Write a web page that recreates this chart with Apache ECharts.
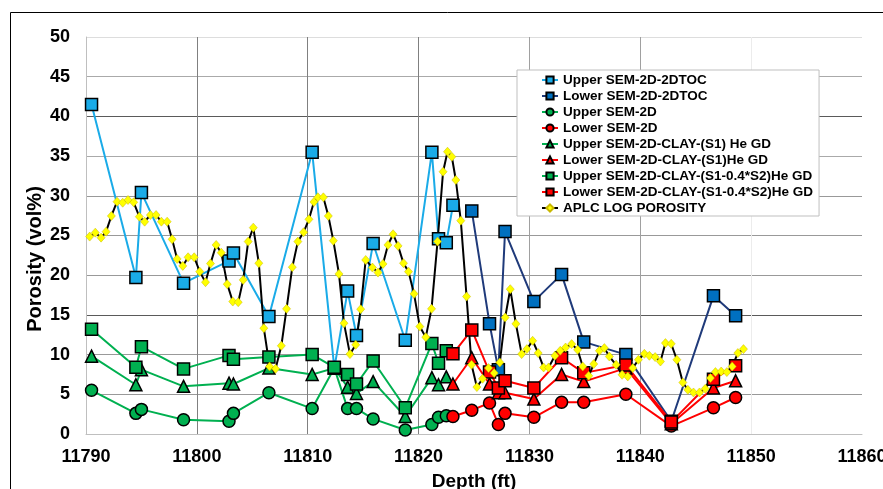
<!DOCTYPE html>
<html>
<head>
<meta charset="utf-8">
<script src="https://cdn.jsdelivr.net/npm/echarts@6/dist/echarts.min.js"></script>
<style>
html,body{margin:0;padding:0;background:#fff;}
#chart{width:883px;height:489px;}
</style>
</head>
<body>
<div id="chart"></div>
<script>
// ---- data ----
var upperDepth = [11790.5, 11794.5, 11795.0, 11798.8, 11802.9, 11803.3, 11806.5, 11810.4, 11812.4, 11813.6, 11814.4, 11815.9, 11818.8, 11821.2, 11821.8, 11822.5];
var upperTocDepth = [11790.5, 11794.5, 11795.0, 11798.8, 11802.9, 11803.3, 11806.5, 11810.4, 11812.4, 11813.6, 11814.4, 11815.9, 11818.8, 11821.2, 11821.8, 11822.5, 11823.1];
var upperToc = [41.5, 19.7, 30.4, 19.0, 21.8, 22.8, 14.8, 35.5, 8.3, 18.0, 12.4, 24.0, 11.8, 35.5, 24.6, 24.1, 28.8];
var upperSem2d = [5.5, 2.6, 3.1, 1.8, 1.6, 2.6, 5.2, 3.2, 8.3, 3.2, 3.2, 1.9, 0.5, 1.2, 2.1, 2.3];
var upperClayS1 = [9.8, 6.2, 8.1, 6.0, 6.4, 6.3, 8.3, 7.5, 8.3, 5.9, 5.1, 6.6, 2.2, 7.1, 6.2, 7.2];
var upperClayS1S2 = [13.2, 8.4, 11.0, 8.2, 9.9, 9.4, 9.7, 10.0, 8.4, 7.5, 6.3, 9.2, 3.3, 11.4, 8.9, 10.5];

var lowerDepth = [11823.1, 11824.8, 11826.4, 11827.2, 11827.8, 11830.4, 11832.9, 11834.9, 11838.7, 11842.8, 11846.6, 11848.6];
var lowerTocDepth = [11824.8, 11826.4, 11827.2, 11827.8, 11830.4, 11832.9, 11834.9, 11838.7, 11842.8, 11846.6, 11848.6];
var lowerToc = [28.1, 13.9, 8.1, 25.5, 16.7, 20.1, 11.6, 10.0, 1.6, 17.4, 14.9];
var lowerSem2d = [2.2, 3.0, 3.9, 1.2, 2.6, 2.1, 4.0, 4.0, 5.0, 1.0, 3.3, 4.6];
var lowerClayS1 = [6.3, 9.6, 6.3, 5.2, 5.2, 4.4, 7.5, 6.6, 8.3, 1.3, 5.8, 6.7];
var lowerClayS1S2 = [10.1, 13.1, 7.8, 5.8, 6.7, 5.8, 9.6, 7.7, 8.7, 1.5, 6.9, 8.6];

var aplcDepth = [11790.33, 11790.84, 11791.36, 11791.81, 11792.29, 11792.80, 11793.31, 11793.79, 11794.30, 11794.81,
  11795.29, 11795.81, 11796.32, 11796.80, 11797.32, 11797.77, 11798.22, 11798.73, 11799.21, 11799.76,
  11800.26, 11800.78, 11801.23, 11801.74, 11802.20, 11802.74, 11803.24, 11803.73, 11804.18, 11804.63,
  11805.09, 11805.59, 11806.04, 11806.56, 11807.10, 11807.62, 11808.09, 11808.61, 11809.11, 11809.63,
  11810.11, 11810.56, 11810.92, 11811.41, 11811.86, 11812.31, 11812.82, 11813.27, 11813.81, 11814.33,
  11814.78, 11815.23, 11815.84, 11816.34, 11816.79, 11817.24, 11817.70, 11818.15, 11818.64, 11819.09,
  11819.59, 11820.11, 11820.65, 11821.17, 11821.71, 11822.21, 11822.61, 11823.00, 11823.36, 11823.81,
  11824.33, 11824.78, 11825.26, 11825.77, 11826.31, 11826.82, 11827.33, 11827.81, 11828.27, 11828.78,
  11829.30, 11829.77, 11830.29, 11830.79, 11831.28, 11831.73, 11832.30, 11832.78, 11833.26, 11833.81,
  11834.35, 11834.81, 11835.35, 11835.80, 11836.31, 11836.76, 11837.21, 11837.82, 11838.36, 11838.87,
  11839.32, 11839.83, 11840.37, 11840.82, 11841.34, 11841.82, 11842.27, 11842.79, 11843.30, 11843.84,
  11844.29, 11844.80, 11845.34, 11845.86, 11846.33, 11846.78, 11847.30, 11847.81, 11848.29, 11848.80,
  11849.31];
var aplcPorosity = [24.86, 25.36, 24.73, 25.48, 27.46, 29.26, 29.13, 29.47, 29.18, 27.37,
  26.74, 27.58, 27.58, 26.74, 26.74, 24.53, 22.05, 21.17, 22.26, 22.26,
  20.45, 19.12, 21.46, 23.81, 22.84, 18.87, 16.68, 16.60, 19.41, 24.23,
  25.99, 21.51, 13.33, 8.50, 8.21, 11.11, 15.76, 21.01, 24.23, 25.41,
  27.04, 29.22, 29.81, 29.81, 27.46, 24.35, 20.16, 13.96, 10.06, 11.23,
  15.72, 21.92, 20.96, 20.33, 21.42, 23.81, 25.16, 23.69, 21.51, 20.45,
  17.65, 13.53, 12.20, 15.76, 24.23, 33.03, 35.55, 34.92, 31.99, 26.87,
  17.31, 8.72, 5.91, 6.96, 8.30, 7.67, 9.01, 14.67, 18.24, 13.87,
  10.06, 10.69, 11.74, 10.19, 8.38, 8.38, 9.85, 10.48, 10.89, 11.32,
  10.60, 8.50, 7.33, 8.81, 10.48, 10.82, 9.76, 8.72, 7.46, 7.25,
  8.30, 9.35, 10.10, 9.85, 9.69, 9.13, 11.45, 11.36, 9.35, 6.49,
  5.57, 5.23, 5.23, 5.70, 7.04, 7.80, 7.87, 7.80, 8.50, 10.19,
  10.69];

var xTicks = {min: 11790, max: 11860, step: 10};
var yTicks = {min: 0, max: 50, step: 5};
var axisTitleX = 'Depth (ft)';
var axisTitleY = 'Porosity (vol%)';

// ---- build ----
function pairs(xs, ys) { return xs.map(function (x, i) { return [x, ys[i]]; }); }

var FONT = '"Liberation Sans", Arial, sans-serif';

function mk(name, xs, ys, symbol, size, fill, line) {
  return {
    name: name, type: 'line', data: pairs(xs, ys),
    symbol: symbol, symbolSize: size, showSymbol: true,
    itemStyle: {color: fill, borderColor: '#000', borderWidth: 1.5},
    lineStyle: {color: line, width: 2},
    emphasis: {disabled: true}, silent: true
  };
}

var series = [
  mk('Upper SEM-2D-2DTOC', upperTocDepth, upperToc, 'rect', 12, '#1AABE8', '#1AABE8'),
  mk('Lower SEM-2D-2DTOC', lowerTocDepth, lowerToc, 'rect', 12, '#0070C0', '#1F3A7A'),
  mk('Upper SEM-2D', upperDepth, upperSem2d, 'circle', 12, '#00B050', '#00B050'),
  mk('Lower SEM-2D', lowerDepth, lowerSem2d, 'circle', 12, '#FF0000', '#FF0000'),
  mk('Upper SEM-2D-CLAY-(S1) He GD', upperDepth, upperClayS1, 'triangle', 12, '#00B050', '#00B050'),
  mk('Lower SEM-2D-CLAY-(S1)He GD', lowerDepth, lowerClayS1, 'triangle', 12, '#FF0000', '#FF0000'),
  mk('Upper SEM-2D-CLAY-(S1-0.4*S2)He GD', upperDepth, upperClayS1S2, 'rect', 12, '#00B050', '#00B050'),
  mk('Lower SEM-2D-CLAY-(S1-0.4*S2)He GD', lowerDepth, lowerClayS1S2, 'rect', 12, '#FF0000', '#FF0000')
];
var aplc = mk('APLC LOG POROSITY', aplcDepth, aplcPorosity, 'diamond', [8, 9], '#FFFF00', '#000000');
aplc.itemStyle = {color: '#FFFF00', borderColor: '#C9B800', borderWidth: 0.5};
aplc.lineStyle = {color: '#000', width: 2};
series.push(aplc);

var chart = echarts.init(document.getElementById('chart'), null, {renderer: 'canvas'});
chart.setOption({
  animation: false,
  backgroundColor: '#fff',
  grid: {left: 86, right: 21, top: 37, bottom: 55, containLabel: false, outerBoundsMode: 'none'},
  xAxis: {
    type: 'value', min: xTicks.min, max: xTicks.max, interval: xTicks.step,
    name: axisTitleX, nameLocation: 'middle', nameGap: 38,
    nameTextStyle: {fontFamily: FONT, fontWeight: 'bold', fontSize: 19, color: '#000'},
    axisLine: {show: true, lineStyle: {color: '#bfbfbf', width: 1}},
    axisTick: {show: false},
    axisLabel: {fontFamily: FONT, fontWeight: 'bold', fontSize: 18, color: '#000', margin: 14,
      hideOverlap: false, formatter: function (v) { return String(v); }},
    splitLine: {show: true, lineStyle: {width: 1, color: ['#bfbfbf', '#808080', '#808080', '#808080', '#a0a0a0', '#a0a0a0', '#ececec', 'rgba(0,0,0,0)']}}
  },
  yAxis: {
    type: 'value', min: yTicks.min, max: yTicks.max, interval: yTicks.step,
    axisLine: {show: true, lineStyle: {color: '#bfbfbf', width: 1}},
    axisTick: {show: false},
    axisLabel: {fontFamily: FONT, fontWeight: 'bold', fontSize: 18, color: '#000', margin: 16},
    splitLine: {show: true, lineStyle: {width: 1, color: ['#bfbfbf', '#999999', '#999999', '#5a5a5a', '#999999', '#999999', '#999999', '#aaaaaa', '#5a5a5a', '#aaaaaa', '#dddddd']}}
  },
  legend: {
    orient: 'vertical', left: 517, top: 70,
    padding: [3, 6, 1, 24], itemGap: 2, itemWidth: 16, itemHeight: 9,
    backgroundColor: '#fff', borderColor: '#bfbfbf', borderWidth: 1, borderRadius: 0,
    textStyle: {fontFamily: FONT, fontWeight: 'bold', fontSize: 13.5, color: '#000', lineHeight: 14},
    selectedMode: false,
    data: series.map(function (s) { return s.name; })
  },
  graphic: [
    {type: 'rect', left: 8, top: 10, shape: {width: 900, height: 520}, style: {fill: 'none', stroke: '#000', lineWidth: 1}, silent: true, z: 100},
    {type: 'text', x: 35, y: 259, rotation: Math.PI / 2,
     style: {text: axisTitleY, font: 'bold 20px ' + FONT, fill: '#000', textAlign: 'center', textVerticalAlign: 'middle'}, silent: true}
  ],
  series: series
});
</script>
</body>
</html>
